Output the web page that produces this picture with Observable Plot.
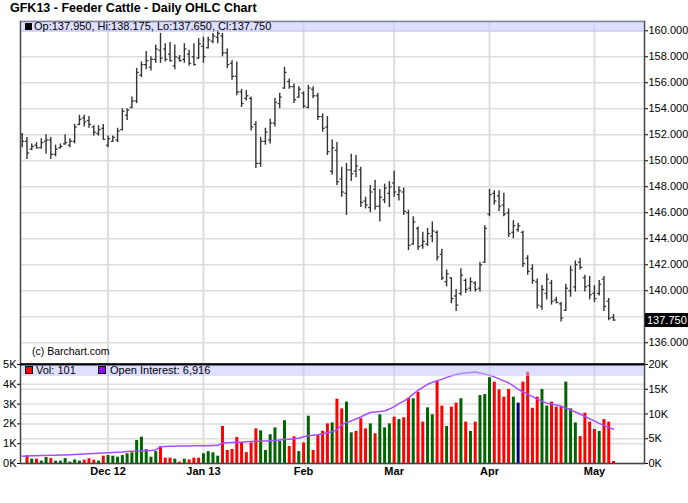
<!DOCTYPE html>
<html><head><meta charset="utf-8">
<script src="https://cdn.jsdelivr.net/npm/d3@7"></script>
<script src="https://cdn.jsdelivr.net/npm/@observablehq/plot@0.6"></script>
<style>
body{margin:0;background:#fff;font-family:"Liberation Sans",Arial,sans-serif;}
#wrap{position:relative;width:688px;height:503px;overflow:hidden;background:#fff;}
.abs{position:absolute;}
.band{position:absolute;background:rgba(192,192,255,0.5);font-size:11px;line-height:11px;color:#000;white-space:nowrap;}
</style></head><body><div id="wrap"></div>
<script>
// ---- data ----
const title = "GFK13 - Feeder Cattle - Daily OHLC Chart";
const tradingDays = [
  [2012, 11, [6,7,8,9,12,13,14,15,16,19,20,21,23,26,27,28,29,30]],
  [2012, 12, [3,4,5,6,7,10,11,12,13,14,17,18,19,20,21,24,26,27,28,31]],
  [2013, 1, [2,3,4,7,8,9,10,11,14,15,16,17,18,22,23,24,25,28,29,30,31]],
  [2013, 2, [1,4,5,6,7,8,11,12,13,14,15,19,20,21,22,25,26,27,28]],
  [2013, 3, [1,4,5,6,7,8,11,12,13,14,15,18,19,20,21,22,25,26,27,28]],
  [2013, 4, [1,2,3,4,5,8,9,10,11,12,15,16,17,18,19,22,23,24,25,26,29,30]],
  [2013, 5, [1,2,3,6,7]]
];
const monthTickLabels = ["Dec 12","Jan 13","Feb","Mar","Apr","May"];
const opens = [
152.0,151.5,150.9,151.2,151.0,151.5,151.6,150.5,151.0,151.3,
151.2,151.5,152.8,153.3,153.1,152.6,152.1,152.5,151.2,151.5,
151.6,152.4,153.5,154.1,154.6,156.6,157.4,157.2,157.8,158.5,
158.6,158.2,157.3,157.9,157.8,158.2,158.0,157.9,158.8,158.7,
159.2,159.5,159.6,158.3,157.5,156.5,155.3,154.8,154.8,152.8,
149.8,151.5,151.6,152.9,154.4,155.6,156.1,155.7,154.9,155.2,
154.1,155.5,155.0,153.4,152.6,149.2,150.8,148.6,147.5,149.3,
149.2,149.3,146.9,146.4,147.8,146.5,147.0,147.5,148.3,147.4,
147.6,146.0,143.6,144.8,143.5,143.6,144.2,144.5,142.8,140.7,
141.0,139.6,139.8,140.8,140.2,140.6,140.2,142.2,145.9,147.5,
147.3,146.6,146.0,144.5,144.7,144.5,142.5,141.7,140.7,138.8,
139.8,140.6,139.3,139.0,138.5,140.0,140.3,142.2,141.0,140.4,
139.8,139.8,140.9,139.2,137.95];
const highs = [
152.1,151.8,151.3,151.4,151.7,152.0,151.8,151.2,151.3,152.0,
151.7,152.8,153.5,153.5,153.4,152.7,152.7,152.8,151.9,151.9,
152.5,154.0,154.0,154.9,157.1,157.6,158.4,158.0,158.9,159.8,
159.0,159.1,158.9,158.1,159.0,158.5,159.0,159.4,159.5,159.5,
159.8,160.0,159.8,158.6,157.7,157.6,155.5,155.4,154.9,153.0,
151.8,152.5,153.2,154.8,155.2,157.2,156.3,155.9,155.7,155.3,
155.8,155.7,155.2,153.6,153.4,151.6,151.4,149.5,149.8,150.5,
150.4,149.5,147.2,148.1,148.5,147.8,148.2,148.4,149.2,148.0,
147.9,146.2,145.7,144.9,144.5,144.8,145.3,144.6,143.2,141.6,
141.0,140.1,141.7,140.9,141.0,140.7,142.2,145.0,147.8,147.7,
147.7,147.5,146.3,145.4,145.2,144.6,142.7,142.0,140.9,140.4,
141.3,140.8,139.5,139.1,140.5,141.9,142.3,142.5,141.2,141.1,
140.4,140.8,141.1,139.4,138.175];
const lows = [
151.0,150.1,150.8,150.9,150.9,150.5,150.1,150.3,150.9,151.2,
151.0,151.3,152.7,152.6,152.5,151.9,151.9,151.6,151.0,151.4,
151.4,152.3,153.1,154.0,154.4,156.4,157.0,156.9,157.5,157.5,
157.6,157.6,157.0,157.6,157.5,157.3,157.3,157.8,157.5,158.6,
159.0,159.0,158.0,157.1,156.2,155.0,154.1,154.6,152.3,149.4,
149.5,151.2,151.3,152.6,154.0,155.5,155.5,154.4,154.8,154.0,
154.0,154.8,153.1,152.2,150.4,148.9,148.1,147.2,145.8,148.4,
148.7,146.4,146.3,146.0,146.2,145.3,146.7,146.4,147.2,146.9,
145.8,143.1,143.5,143.1,143.2,143.4,143.7,142.3,140.8,140.3,
139.0,138.4,139.6,139.8,139.9,139.9,139.9,142.1,145.7,146.6,
146.1,145.7,144.1,144.0,144.5,141.8,141.2,140.5,138.6,138.5,
139.3,138.9,139.0,137.6,138.4,139.5,139.9,141.6,139.9,139.3,
139.1,139.6,138.4,137.7,137.65];
const closes = [
151.5,150.6,151.1,151.0,151.4,151.6,150.5,150.9,151.1,151.4,
151.5,152.6,153.2,153.0,152.8,152.2,152.4,151.65,151.7,151.8,
152.3,153.8,153.9,154.6,156.8,157.4,157.7,157.8,158.6,157.9,
157.8,157.7,158.0,157.7,158.6,157.5,157.4,159.0,158.0,159.3,
159.6,159.8,158.3,157.4,156.5,155.3,154.4,155.0,152.6,149.8,
151.5,152.2,152.9,154.5,154.9,156.8,155.7,154.7,155.5,154.2,
155.6,155.0,153.4,152.5,150.7,151.0,148.4,147.6,149.3,149.0,
149.6,146.8,146.6,147.6,146.5,147.2,147.9,148.0,147.6,147.7,
146.1,143.5,145.3,143.4,143.8,144.4,144.6,142.6,141.0,141.3,
139.4,138.9,141.2,140.1,140.7,140.1,142.0,144.8,147.4,146.9,
146.5,145.9,144.4,145.0,145.0,142.1,141.5,140.8,138.9,140.1,
140.9,139.2,139.1,137.9,140.2,141.6,142.0,141.8,140.3,139.7,
139.4,140.5,138.8,137.9,137.75];
const volumes = [
0,400,220,220,120,300,250,120,120,250,
70,180,120,170,240,170,120,370,400,370,
320,400,490,540,1160,1330,700,320,600,860,
270,270,220,70,220,180,270,270,490,600,
540,370,1870,660,710,1310,1040,550,1040,1750,
1650,660,1450,1800,1110,2160,860,1350,600,1040,
2390,660,1410,1630,2000,2050,3250,2760,3100,1550,
1620,2260,1750,2000,1500,2460,1800,2000,2340,2220,
2310,3300,3270,3600,2090,2810,2460,4140,2900,1870,
2850,3050,3270,2090,1620,2090,3430,3480,4330,4110,
3720,3350,3740,3350,3050,4110,4610,2790,3350,3740,
2900,3100,2850,2850,4110,2760,2050,1360,2540,2090,
1720,1620,2220,2090,101];
const volumeDirections = [
"d","d","u","d","u","u","d","u","u","u",
"u","u","u","d","d","d","u","d","u","u",
"u","u","u","u","u","u","u","u","u","d",
"d","d","u","d","u","d","d","d","u","u",
"u","u","d","d","d","d","d","d","d","d",
"u","u","u","u","u","u","d","d","u","d",
"u","d","d","d","d","u","d","d","u","u",
"d","d","d","u","d","u","u","u","d","u",
"d","d","u","d","d","u","u","d","d","u",
"d","d","u","d","u","d","u","u","u","d",
"d","d","d","u","n","d","d","d","d","u",
"u","d","d","d","u","u","u","d","d","d",
"d","u","d","d","d"];
const openInterest = [
1450,1500,1550,1580,1600,1620,1650,1680,1700,1720,1750,1800,1850,1900,1950,2000,2050,2100,
2150,2200,2250,2300,2400,2450,2500,2550,2600,2650,2750,3400,
3450,3500,3500,3550,3550,3550,3600,3600,3600,3600,3650,3650,
4100,4200,4250,4300,4300,4400,4450,4500,4500,4550,4600,4650,4750,4850,4900,5000,5100,
5400,5600,5700,5800,6000,6200,6400,6800,
7800,8300,8600,9000,9400,9900,10300,10400,10500,10600,11000,11500,
12100,12600,13200,14000,14800,15400,16000,16400,16700,17000,17400,17700,18000,18200,18300,18400,18500,18300,18100,17800,
17500,17100,16700,16300,15700,15000,14500,14000,13500,13000,12600,12200,12000,11800,11600,11200,10800,10400,10000,9500,9000,8600,8100,7700,7300,6916];
const priceTicks = [136,138,140,142,144,146,148,150,152,154,156,158,160];
const volumeTicks = [0,1000,2000,3000,4000,5000];
const openInterestTicks = [0,5000,10000,15000,20000];
const directionColors = {u:"#006400", d:"#ff0000", n:"#000080"};

// ---- build table ----
const dates = tradingDays.flatMap(([y,m,days]) => days.map(d => ({y, m, d})));
const n = dates.length;
if ([opens,highs,lows,closes,volumes,volumeDirections,openInterest].some(a => a.length !== n)) throw new Error("length mismatch");
const data = dates.map((dt,i) => ({i, month: dt.y*100+dt.m, open:opens[i], high:highs[i], low:lows[i], close:closes[i],
  volume:volumes[i], dir:volumeDirections[i], oi:openInterest[i]}));
const monthStarts = data.filter((d,i) => i>0 && d.month !== data[i-1].month).map(d => d.i);
const last = data[n-1];
const fmt3 = d3.format(".3f");
// the last-price box covers the axis label next to it
const priceLabelTicks = priceTicks.filter(t => Math.abs(t - last.close) > 1);

const font = "Liberation Sans, Arial, sans-serif";
const xScale = {domain:[-0.36, 130.5], axis:null, label:null};
const grid = "#dedede";
const barInk = "#333";

const wrap = document.getElementById("wrap");

// title
const t = document.createElement("div");
t.className = "abs";
t.style.cssText = "left:10px;top:1px;font-weight:bold;font-size:12.5px;line-height:14px;color:#000;";
t.textContent = title;
wrap.appendChild(t);

// price panel
const price = Plot.plot({
  width:688, height:364, marginTop:21, marginBottom:0, marginLeft:20, marginRight:44,
  style:{background:"transparent", color:"#000", fontFamily:font, fontSize:"11px", overflow:"visible"},
  x:xScale,
  y:{domain:[134.33,160.715], axis:null, label:null},
  marks:[
    Plot.ruleY(priceTicks, {stroke:grid, strokeWidth:1.5}),
    Plot.ruleX(monthStarts, {stroke:grid, strokeWidth:2}),
    Plot.ruleX(data, {x:"i", y1:"low", y2:"high", stroke:barInk, strokeWidth:1.4}),
    Plot.link(data, {x1:d => d.i-0.45, x2:"i", y1:"open", y2:"open", stroke:barInk, strokeWidth:1.2}),
    Plot.link(data, {x1:"i", x2:d => d.i+0.45, y1:"close", y2:"close", stroke:barInk, strokeWidth:1.2}),
    Plot.axisY(priceLabelTicks, {anchor:"right", label:null, tickSize:3, tickPadding:1, tickFormat:fmt3, fontSize:11}),
    Plot.frame({stroke:"#444", strokeWidth:1.5})
  ]
});
price.style.position = "absolute"; price.style.left = "0px"; price.style.top = "0px";
wrap.appendChild(price);

// volume panel
const vol = Plot.plot({
  width:688, height:141, marginTop:2, marginBottom:40, marginLeft:20, marginRight:44,
  style:{background:"transparent", color:"#000", fontFamily:font, fontSize:"11px", overflow:"visible"},
  x:xScale,
  y:{domain:[0,5000], axis:null, label:null},
  color:{type:"identity"},
  marks:[
    Plot.ruleY(volumeTicks, {stroke:grid, strokeWidth:1.5}),
    Plot.ruleY(openInterestTicks, {y:d => d/4, stroke:grid, strokeWidth:1.5}),
    Plot.ruleX(monthStarts, {stroke:grid, strokeWidth:2}),
    Plot.ruleX(data, {x:"i", y1:0, y2:"volume", stroke:d => directionColors[d.dir], strokeWidth:3}),
    Plot.line(data, {x:"i", y:d => d.oi/4, stroke:"#a64dff", strokeWidth:1.5}),
    Plot.axisY(volumeTicks, {anchor:"left", label:null, tickSize:3, tickPadding:1, tickFormat:d => d/1000 + "K", fontSize:11}),
    Plot.axisY(openInterestTicks.map(d => d/4), {anchor:"right", label:null, tickSize:3, tickPadding:1, tickFormat:d => d*4/1000 + "K", fontSize:11}),
    Plot.axisX(monthStarts, {anchor:"bottom", label:null, tickSize:0, tickPadding:4, tickFormat:d => monthTickLabels[monthStarts.indexOf(d)], fontWeight:"bold", fontSize:11}),
    Plot.frame({stroke:"#444", strokeWidth:1.5}),
    Plot.ruleY([5000], {stroke:"#000", strokeWidth:2.5})
  ]
});
vol.style.position = "absolute"; vol.style.left = "0px"; vol.style.top = "362px";
wrap.appendChild(vol);

// header bands
const pb = document.createElement("div");
pb.className = "band";
pb.style.cssText += "left:21px;top:21px;width:623px;height:11px;";
pb.innerHTML = `<span style="position:absolute;left:4px;top:2px;width:7px;height:7px;background:#000"></span><span style="position:absolute;left:13px;top:0px">Op:${fmt3(last.open)}, Hi:${fmt3(last.high)}, Lo:${fmt3(last.low)}, Cl:${fmt3(last.close)}</span>`;
wrap.appendChild(pb);

const vb = document.createElement("div");
vb.className = "band";
vb.style.cssText += "left:21px;top:365px;width:623px;height:11px;";
vb.innerHTML = `<span style="position:absolute;left:4px;top:1px;width:6px;height:6px;border:1px solid #000;background:#ff0000"></span><span style="position:absolute;left:15px;top:0px">Vol: ${d3.format(",")(last.volume)}</span>` +
  `<span style="position:absolute;left:77px;top:1px;width:6px;height:6px;border:1px solid #000;background:#9900ff"></span><span style="position:absolute;left:89px;top:0px">Open Interest: ${d3.format(",")(last.oi)}</span>`;
wrap.appendChild(vb);

// copyright
const c = document.createElement("div");
c.className = "abs";
c.style.cssText = "left:32px;top:345px;font-size:10.5px;line-height:12px;color:#000;";
c.textContent = "(c) Barchart.com";
wrap.appendChild(c);

// last price box
const yLast = price.scale("y").apply(last.close);
const box = document.createElement("div");
box.className = "abs";
box.style.cssText = `left:645px;top:${yLast-7}px;width:43px;height:14px;background:#000;color:#fff;font-size:11px;line-height:14px;padding-left:2px;box-sizing:border-box;`;
box.textContent = fmt3(last.close);
wrap.appendChild(box);
</script></body></html>
